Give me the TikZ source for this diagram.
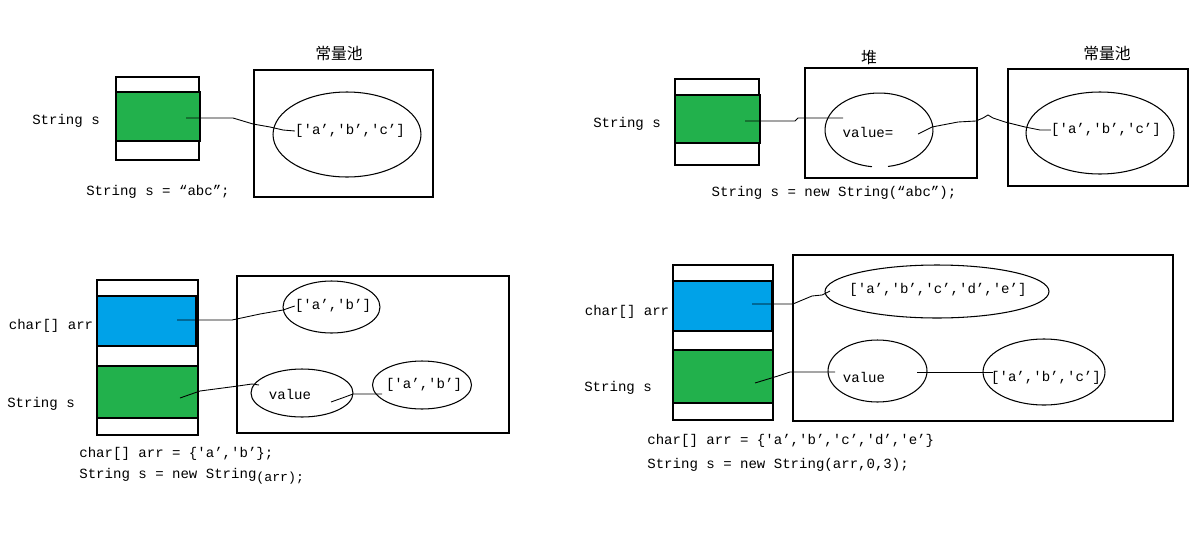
\documentclass[tikz,border=0pt]{standalone}
\usepackage{fontspec}
\setmonofont{Liberation Mono}
\newfontfamily\cjk{Noto Sans CJK SC}
\usetikzlibrary{shapes.geometric}
\definecolor{slotgreen}{RGB}{34,177,76}
\definecolor{slotblue}{RGB}{0,162,232}

\begin{document}
\begin{tikzpicture}[x=0.02cm, y=-0.02cm,
    every node/.style={font=\ttfamily\fontsize{8}{9.6}\selectfont, inner sep=0pt},
    frame/.style={draw, line width=0.7pt},
    slot/.style={draw, line width=0.8pt},
    obj/.style={ellipse, draw, line width=0.6pt},
    ptr/.style={line width=0.5pt},
    title/.style={font=\cjk\fontsize{9}{11}\selectfont}]
    \useasboundingbox (0,0) rectangle (1200,558);

    % String s = "abc";
    \node (lblS1) at (66,121) {String s};
    \node[frame, minimum width=1.66cm, minimum height=1.66cm] (stack1) at (157.5,118.5) {};
    \node[slot, fill=slotgreen, minimum width=1.68cm, minimum height=0.98cm] (slot1) at (158,116.5) {};
    \node[frame, minimum width=3.58cm, minimum height=2.54cm] (pool1) at (343.5,133.5) {};
    \node[title] (pool1t) at (339,53) {常量池};
    \node[obj, minimum width=2.96cm, minimum height=1.7cm] (pool1e) at (347,134.5) {};
    \node (pool1v) at (350,131) {['a’,'b’,'c’]};
    \node (code1) at (158,192) {String s = “abc”;};
    \coordinate (s1p) at (186,118);
    \draw[ptr] (s1p) -- (233,118) -- (253,124) -- (270,127) -- (283,130) -- (pool1v.west);

    % String s = new String("abc");
    \node (lblS2) at (627,124) {String s};
    \node[frame, minimum width=1.68cm, minimum height=1.72cm] (stack2) at (717,122) {};
    \node[slot, fill=slotgreen, minimum width=1.7cm, minimum height=0.96cm] (slot2) at (717.5,119) {};
    \node[frame, minimum width=3.44cm, minimum height=2.2cm] (heap2) at (891,123) {};
    \node[title] (heap2t) at (869,58) {堆};
    \node[obj, draw=none, minimum width=2.16cm, minimum height=1.48cm] (heap2e) at (879,130) {};
    \draw[line width=0.6pt] ([shift={(279.6:1.08cm and 0.74cm)}]heap2e.center)
        arc[start angle=279.6, end angle=622.5, x radius=1.08cm, y radius=0.74cm];
    \node (heap2v) at (868,132) {value=};
    \node[frame, minimum width=3.6cm, minimum height=2.34cm] (pool2) at (1098,127.5) {};
    \node[title] (pool2t) at (1107,53) {常量池};
    \node[obj, minimum width=2.96cm, minimum height=1.64cm] (pool2e) at (1100,133) {};
    \node (pool2v) at (1106,130) {['a’,'b’,'c’]};
    \node (code2) at (834,193) {String s = new String(“abc”);};
    \coordinate (s2p) at (745,121);
    \coordinate (v2in) at (843,118);
    \coordinate (v2out) at (918,134);
    \draw[ptr] (s2p) -- (795,121) -- (798,118) -- (v2in);
    \draw[ptr] (v2out) -- (932,127) -- (958,122) -- (976,121) -- (983,118) -- (988,115)
        -- (993,118) -- (1005,122) -- (1025,127) -- (1040,130) -- (pool2v.west);

    % char[] arr = {'a','b'}; String s = new String(arr);
    \node (lblA3) at (51,326) {char[] arr};
    \node (lblS3) at (41,404) {String s};
    \node[frame, minimum width=2.02cm, minimum height=3.1cm] (stack3) at (147.5,357.5) {};
    \node[slot, fill=slotblue, minimum width=1.98cm, minimum height=1.0cm] (slot3a) at (146.5,321) {};
    \node[slot, fill=slotgreen, minimum width=2.02cm, minimum height=1.04cm] (slot3s) at (147.5,392) {};
    \node[frame, minimum width=5.44cm, minimum height=3.14cm] (heap3) at (373,354.5) {};
    \node[obj, minimum width=1.94cm, minimum height=1.04cm] (arr3e) at (331.5,307) {};
    \node (arr3v) at (333,306) {['a’,'b’]};
    \node[obj, minimum width=2.04cm, minimum height=0.96cm] (val3e) at (302,393) {};
    \node (val3v) at (290,394) {value};
    \node[obj, minimum width=1.98cm, minimum height=0.96cm] (ab3e) at (422,385) {};
    \node (ab3v) at (424,385) {['a’,'b’]};
    \node[anchor=west] (code3a) at (79,454) {char[] arr = \{'a’,'b’\};};
    \node[anchor=west] (code3b) at (79,476) {String s = new String\raisebox{-0.06cm}{\fontsize{7.5}{9}\selectfont(arr);}};
    \coordinate (a3p) at (177,320);
    \coordinate (s3p) at (180,398);
    \coordinate (v3in) at (259,385);
    \coordinate (v3out) at (331,402);
    \coordinate (ab3in) at (382,394);
    \draw[ptr] (a3p) -- (232,320) -- (260,314) -- (283,310) -- (arr3v.west);
    \draw[ptr] (s3p) -- (200,391) -- (238,386) -- (252,384) -- (v3in);
    \draw[ptr] (v3out) -- (345,397) -- (353,394) -- (ab3in);

    % char[] arr = {'a','b','c','d','e'}; String s = new String(arr,0,3);
    \node (lblA4) at (627,312) {char[] arr};
    \node (lblS4) at (618,388) {String s};
    \node[frame, minimum width=2.0cm, minimum height=3.1cm] (stack4) at (723,342.5) {};
    \node[slot, fill=slotblue, minimum width=1.98cm, minimum height=1.0cm] (slot4a) at (722.5,306) {};
    \node[slot, fill=slotgreen, minimum width=2.0cm, minimum height=1.06cm] (slot4s) at (723,376.5) {};
    \node[frame, minimum width=7.6cm, minimum height=3.32cm] (heap4) at (983,338) {};
    \node[obj, minimum width=4.48cm, minimum height=1.06cm] (arr4e) at (937,291.5) {};
    \node (arr4v) at (938,290) {['a’,'b’,'c’,'d’,'e’]};
    \node[obj, minimum width=1.98cm, minimum height=1.24cm] (val4e) at (877.5,371) {};
    \node (val4v) at (864,377) {value};
    \node[obj, minimum width=2.44cm, minimum height=1.32cm] (ab4e) at (1044,372) {};
    \node (ab4v) at (1046,378) {['a’,'b’,'c’]};
    \node[anchor=west] (code4a) at (647,441) {char[] arr = \{'a’,'b’,'c’,'d’,'e’\}};
    \node[anchor=west] (code4b) at (647,465) {String s = new String(arr,0,3);};
    \coordinate (a4p) at (752,304);
    \coordinate (a4in) at (830,291);
    \coordinate (s4p) at (755,383);
    \coordinate (v4in) at (835,372);
    \coordinate (v4out) at (917,372);
    \coordinate (ab4in) at (993,372);
    \draw[ptr] (a4p) -- (793,304) -- (800,301) -- (812,296) -- (822,295) -- (a4in);
    \draw[ptr] (s4p) -- (778,376) -- (790,372) -- (v4in);
    \draw[ptr] (v4out) -- (ab4in);
\end{tikzpicture}
\end{document}
